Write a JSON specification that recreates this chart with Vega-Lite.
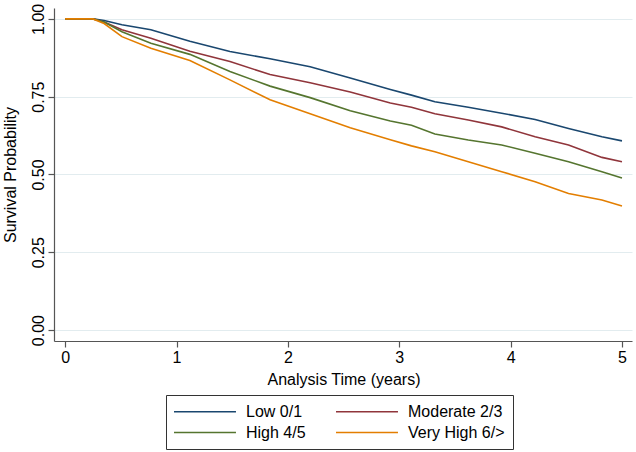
{
  "$schema": "https://vega.github.io/schema/vega-lite/v6.json",
  "width": 578,
  "height": 333,
  "autosize": {"type": "none"},
  "padding": {"top": 8, "left": 54, "right": 4, "bottom": 111},
  "background": "white",
  "config": {
    "view": {"stroke": null},
    "font": "Liberation Sans",
    "axis": {"labelFont": "Liberation Sans", "titleFont": "Liberation Sans", "labelColor": "#000", "titleColor": "#000", "titleFontWeight": "normal", "domainColor": "#555", "tickColor": "#555", "domainWidth": 1.2, "tickWidth": 1.2}
  },
  "data": {
    "values": [
      {"t": 0, "s": 1, "g": "Low 0/1"},
      {"t": 0.25, "s": 1, "g": "Low 0/1"},
      {"t": 0.35, "s": 0.995, "g": "Low 0/1"},
      {"t": 0.51, "s": 0.981, "g": "Low 0/1"},
      {"t": 0.77, "s": 0.965, "g": "Low 0/1"},
      {"t": 1.12, "s": 0.928, "g": "Low 0/1"},
      {"t": 1.48, "s": 0.895, "g": "Low 0/1"},
      {"t": 1.84, "s": 0.872, "g": "Low 0/1"},
      {"t": 2.2, "s": 0.846, "g": "Low 0/1"},
      {"t": 2.56, "s": 0.81, "g": "Low 0/1"},
      {"t": 2.92, "s": 0.773, "g": "Low 0/1"},
      {"t": 3.11, "s": 0.755, "g": "Low 0/1"},
      {"t": 3.32, "s": 0.734, "g": "Low 0/1"},
      {"t": 3.62, "s": 0.716, "g": "Low 0/1"},
      {"t": 3.92, "s": 0.697, "g": "Low 0/1"},
      {"t": 4.22, "s": 0.677, "g": "Low 0/1"},
      {"t": 4.52, "s": 0.648, "g": "Low 0/1"},
      {"t": 4.82, "s": 0.621, "g": "Low 0/1"},
      {"t": 5.0, "s": 0.608, "g": "Low 0/1"},
      {"t": 0, "s": 1, "g": "Moderate 2/3"},
      {"t": 0.25, "s": 1, "g": "Moderate 2/3"},
      {"t": 0.35, "s": 0.99, "g": "Moderate 2/3"},
      {"t": 0.51, "s": 0.965, "g": "Moderate 2/3"},
      {"t": 0.77, "s": 0.938, "g": "Moderate 2/3"},
      {"t": 1.12, "s": 0.896, "g": "Moderate 2/3"},
      {"t": 1.48, "s": 0.863, "g": "Moderate 2/3"},
      {"t": 1.84, "s": 0.821, "g": "Moderate 2/3"},
      {"t": 2.2, "s": 0.795, "g": "Moderate 2/3"},
      {"t": 2.56, "s": 0.765, "g": "Moderate 2/3"},
      {"t": 2.92, "s": 0.73, "g": "Moderate 2/3"},
      {"t": 3.11, "s": 0.716, "g": "Moderate 2/3"},
      {"t": 3.32, "s": 0.695, "g": "Moderate 2/3"},
      {"t": 3.62, "s": 0.675, "g": "Moderate 2/3"},
      {"t": 3.92, "s": 0.653, "g": "Moderate 2/3"},
      {"t": 4.22, "s": 0.621, "g": "Moderate 2/3"},
      {"t": 4.52, "s": 0.595, "g": "Moderate 2/3"},
      {"t": 4.82, "s": 0.555, "g": "Moderate 2/3"},
      {"t": 5.0, "s": 0.541, "g": "Moderate 2/3"},
      {"t": 0, "s": 1, "g": "High 4/5"},
      {"t": 0.25, "s": 1, "g": "High 4/5"},
      {"t": 0.35, "s": 0.99, "g": "High 4/5"},
      {"t": 0.51, "s": 0.959, "g": "High 4/5"},
      {"t": 0.77, "s": 0.922, "g": "High 4/5"},
      {"t": 1.12, "s": 0.886, "g": "High 4/5"},
      {"t": 1.48, "s": 0.831, "g": "High 4/5"},
      {"t": 1.84, "s": 0.784, "g": "High 4/5"},
      {"t": 2.2, "s": 0.747, "g": "High 4/5"},
      {"t": 2.56, "s": 0.705, "g": "High 4/5"},
      {"t": 2.92, "s": 0.672, "g": "High 4/5"},
      {"t": 3.11, "s": 0.658, "g": "High 4/5"},
      {"t": 3.32, "s": 0.63, "g": "High 4/5"},
      {"t": 3.62, "s": 0.611, "g": "High 4/5"},
      {"t": 3.92, "s": 0.595, "g": "High 4/5"},
      {"t": 4.22, "s": 0.568, "g": "High 4/5"},
      {"t": 4.52, "s": 0.541, "g": "High 4/5"},
      {"t": 4.82, "s": 0.509, "g": "High 4/5"},
      {"t": 5.0, "s": 0.489, "g": "High 4/5"},
      {"t": 0, "s": 1, "g": "Very High 6/>"},
      {"t": 0.25, "s": 1, "g": "Very High 6/>"},
      {"t": 0.35, "s": 0.985, "g": "Very High 6/>"},
      {"t": 0.51, "s": 0.943, "g": "Very High 6/>"},
      {"t": 0.77, "s": 0.906, "g": "Very High 6/>"},
      {"t": 1.12, "s": 0.866, "g": "Very High 6/>"},
      {"t": 1.48, "s": 0.804, "g": "Very High 6/>"},
      {"t": 1.84, "s": 0.74, "g": "Very High 6/>"},
      {"t": 2.2, "s": 0.695, "g": "Very High 6/>"},
      {"t": 2.56, "s": 0.65, "g": "Very High 6/>"},
      {"t": 2.92, "s": 0.612, "g": "Very High 6/>"},
      {"t": 3.11, "s": 0.592, "g": "Very High 6/>"},
      {"t": 3.32, "s": 0.573, "g": "Very High 6/>"},
      {"t": 3.62, "s": 0.541, "g": "Very High 6/>"},
      {"t": 3.92, "s": 0.509, "g": "Very High 6/>"},
      {"t": 4.22, "s": 0.477, "g": "Very High 6/>"},
      {"t": 4.52, "s": 0.439, "g": "Very High 6/>"},
      {"t": 4.82, "s": 0.418, "g": "Very High 6/>"},
      {"t": 5.0, "s": 0.399, "g": "Very High 6/>"}
    ]
  },
  "mark": {"type": "line", "strokeWidth": 1.6},
  "encoding": {
    "x": {
      "field": "t", "type": "quantitative",
      "scale": {"domain": [-0.1, 5.09], "nice": false, "zero": false},
      "axis": {"values": [0, 1, 2, 3, 4, 5], "format": "d", "grid": false, "title": "Analysis Time (years)", "labelFontSize": 16, "titleFontSize": 16, "tickSize": 6, "labelPadding": 15, "labelBaseline": "alphabetic", "titleY": 43, "titleBaseline": "alphabetic", "titleX": 289.5, "titleAlign": "center"}
    },
    "y": {
      "field": "s", "type": "quantitative",
      "scale": {"domain": [-0.035, 1.035], "nice": false, "zero": false},
      "axis": {"values": [0, 0.25, 0.5, 0.75, 1], "format": ".2f", "grid": true, "gridColor": "#e2ecef", "gridWidth": 1, "title": "Survival Probability", "labelFontSize": 16, "titleFontSize": 16, "tickSize": 6, "labelPadding": 5, "labelAngle": 270, "labelAlign": "center", "labelBaseline": "alphabetic", "titleAngle": 270, "titleBaseline": "alphabetic", "titleAlign": "center", "titleX": -39, "titleY": 166.5}
    },
    "color": {
      "field": "g", "type": "nominal",
      "scale": {"domain": ["Low 0/1", "Moderate 2/3", "High 4/5", "Very High 6/>"], "range": ["#1a476f", "#90353b", "#55752f", "#e37e00"]},
      "legend": {"orient": "none", "legendX": 112, "legendY": 387, "direction": "horizontal", "columns": 2, "title": null, "symbolType": "M-1.097,0H6.903", "symbolSize": 240, "symbolStrokeWidth": 1.5, "labelFontSize": 16, "labelFont": "Liberation Sans", "labelColor": "#000", "labelOffset": 55, "columnPadding": 27, "rowPadding": 4, "padding": 8, "strokeColor": "#333"}
    }
  }
}
